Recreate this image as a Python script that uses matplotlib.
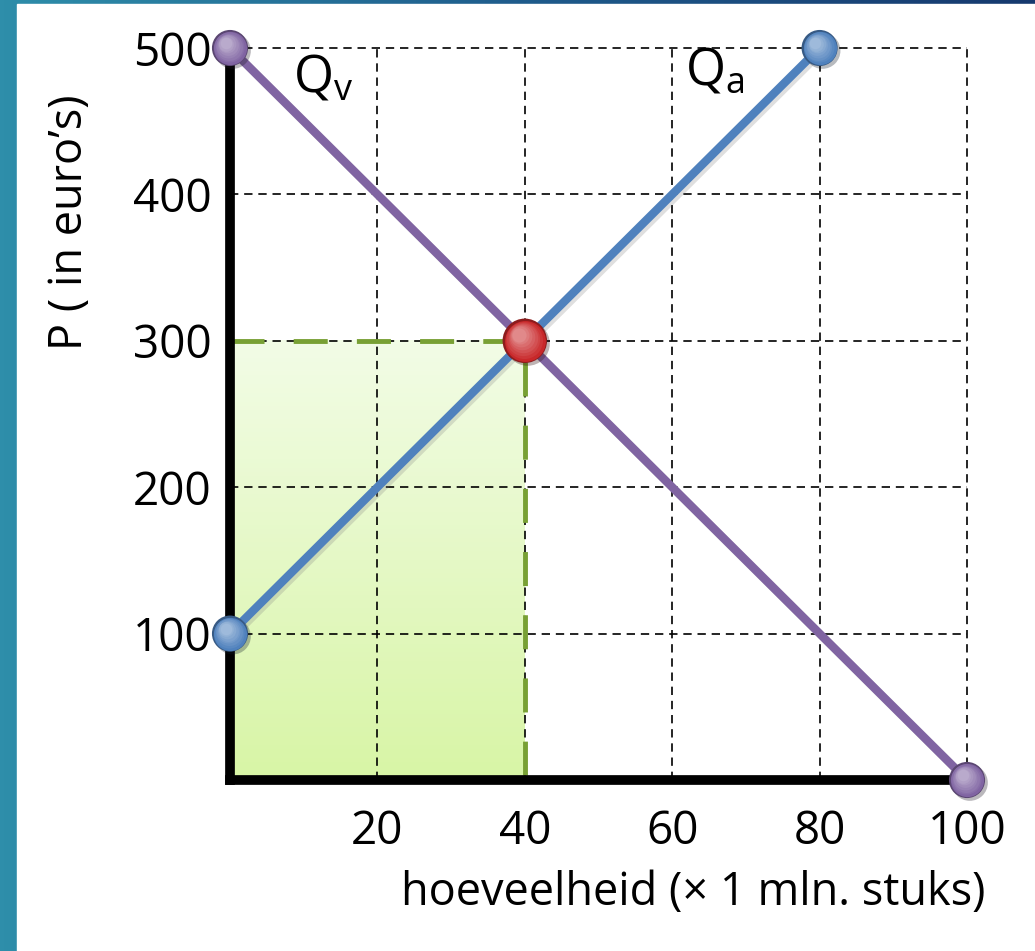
import numpy as np
import matplotlib
matplotlib.use('Agg')
import matplotlib.pyplot as plt
import matplotlib.patheffects as pe
from matplotlib.transforms import offset_copy

plt.rcParams['font.family'] = ['Open Sans', 'DejaVu Sans']

# vraag- en aanbodlijn
qv_x = [0, 100]
qv_y = [500, 0]
qa_x = [0, 80]
qa_y = [100, 500]
# evenwicht
q_eq = 40
p_eq = 300

x_ticks = [20, 40, 60, 80, 100]
y_ticks = [100, 200, 300, 400, 500]

purple = '#8064A2'
blue = '#4F81BD'
red = '#C8282A'

fig = plt.figure(figsize=(10.35, 9.51), dpi=100)

# achtergrond (dia-rand links en boven)
bg = fig.add_axes([0, 0, 1, 1])
grad = np.linspace(0, 1, 256).reshape(1, -1)
bg.imshow(np.vstack([grad, grad]), extent=[0, 1, 0, 1], aspect='auto',
          cmap=matplotlib.colors.LinearSegmentedColormap.from_list('b', ['#2E8EAA', '#1F5C8C', '#16396E']))
bg.add_patch(plt.Rectangle((17 / 1035, 0), 1, 1 - 4 / 951, color='white'))
bg.set_xlim(0, 1)
bg.set_ylim(0, 1)
bg.axis('off')

ax = fig.add_axes([230 / 1035, 1 - 780 / 951, (967 - 230) / 1035, (780 - 48) / 951])
ax.set_facecolor('none')
ax.set_xlim(0, 100)
ax.set_ylim(0, 500)

# groen vlak (omzet)
fill = np.linspace(0, 1, 100).reshape(-1, 1)
green_cmap = matplotlib.colors.LinearSegmentedColormap.from_list('g', ['#F2FCE6', '#D8F5A6'])
ax.imshow(fill, extent=[0, q_eq, 0, p_eq], aspect='auto', cmap=green_cmap, zorder=1)

# raster
for x in x_ticks:
    ax.plot([x, x], [0, 500], color='black', lw=1.2, ls=(0, (5, 3.5)), zorder=2, clip_on=False)
for y in y_ticks:
    ax.plot([0, 100], [y, y], color='black', lw=1.2, ls=(0, (5, 3.5)), zorder=2, clip_on=False)

# stippellijnen rond het vlak
ax.plot([0, q_eq, q_eq], [p_eq, p_eq, 0], color='#78A034', lw=3.5, ls=(0, (7, 6)), zorder=3)
ax.plot([0, 0], [0, p_eq], color='#78A034', lw=3.5, ls=(0, (7, 6)), zorder=3, clip_on=False)

shadow = [pe.SimpleLineShadow(offset=(2, -2), alpha=0.25, shadow_color='gray'), pe.Normal()]
ax.plot(qv_x, qv_y, color=purple, lw=6, solid_capstyle='butt', zorder=5, path_effects=shadow)
ax.plot(qa_x, qa_y, color=blue, lw=6, solid_capstyle='butt', zorder=5, path_effects=shadow)


def ball(x, y, color, size):
    # bol met glans
    base = matplotlib.colors.to_rgb(color)
    dark = tuple(c * 0.7 for c in base)
    ax.plot(x, y, 'o', ms=size, color=dark, mec='none', zorder=7, clip_on=False,
            path_effects=[pe.SimplePatchShadow(offset=(2, -2), alpha=0.3), pe.Normal()])
    for i, f in enumerate(np.linspace(0, 1, 8)):
        c = tuple(min(1, b + (1 - b) * 0.45 * f) for b in base)
        s = size * (0.92 - 0.6 * f)
        tr = offset_copy(ax.transData, fig=fig, x=-size * 0.12 * f, y=size * 0.14 * f, units='points')
        ax.plot(x, y, 'o', ms=s, color=c, mec='none', zorder=8 + i * 0.01, clip_on=False, transform=tr)


ball(qv_x[0], qv_y[0], purple, 26)
ball(qv_x[1], qv_y[1], purple, 26)
ball(qa_x[0], qa_y[0], blue, 26)
ball(qa_x[1], qa_y[1], blue, 26)
ball(q_eq, p_eq, red, 32)

ax.text(8.5, 470, r'$\mathregular{Q_v}$', fontsize=37, ha='left', va='baseline', zorder=9)
ax.text(61.7, 475, r'$\mathregular{Q_a}$', fontsize=37, ha='left', va='baseline', zorder=9)

for s in ['top', 'right']:
    ax.spines[s].set_visible(False)
for s in ['left', 'bottom']:
    ax.spines[s].set_linewidth(7)
    ax.spines[s].set_color('black')
    ax.spines[s].set_zorder(6)

ax.set_xticks(x_ticks)
ax.set_yticks(y_ticks)
ax.tick_params(length=0, labelsize=33)
ax.tick_params(axis='x', pad=21)
ax.tick_params(axis='y', pad=13)

fig.text(985 / 1035, 1 - 893 / 951, 'hoeveelheid (× 1 mln. stuks)', fontsize=32.5, ha='right', va='center')
fig.text(70 / 1035, 1 - 94 / 951, 'P ( in euro’s)', fontsize=32.5, rotation=90, ha='center', va='top')

fig.savefig('out.png', dpi=100)
